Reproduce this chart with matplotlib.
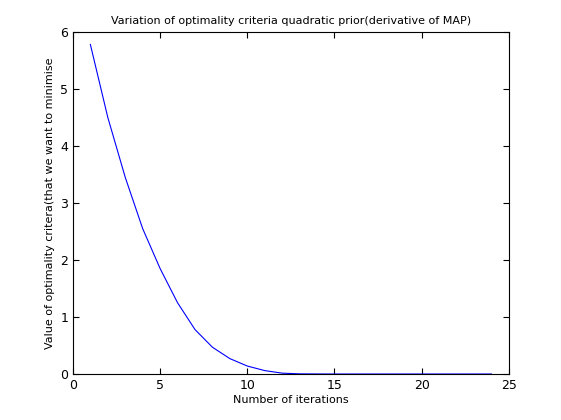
import matplotlib
matplotlib.use("Agg")
import matplotlib.pyplot as plt

iterations = list(range(1, 25))
criteria = [5.78, 4.5, 3.45, 2.55, 1.85, 1.25, 0.78, 0.47, 0.27, 0.14, 0.06,
            0.015, 0.003, 0.001, 0, 0, 0, 0, 0, 0, 0, 0, 0, 0]

fig = plt.figure(figsize=(5.61, 4.2), dpi=100, facecolor='white')
ax = fig.add_axes([0.130, 0.1095, 0.777, 0.8145])
ax.plot(iterations, criteria, color='blue', linewidth=0.8)
ax.set_xlim(0, 25)
ax.set_ylim(0, 6)
ax.set_xticks(range(0, 26, 5))
ax.set_yticks(range(0, 7))
ax.tick_params(direction='in', labelsize=9, top=True, right=True, length=4)
ax.set_title('Variation of optimality criteria quadratic prior(derivative of MAP)', fontsize=8)
ax.set_xlabel('Number of iterations', fontsize=8, labelpad=2)
ax.set_ylabel('Value of optimality critera(that we want to minimise', fontsize=8, labelpad=4)
fig.savefig('out.png', dpi=100)
